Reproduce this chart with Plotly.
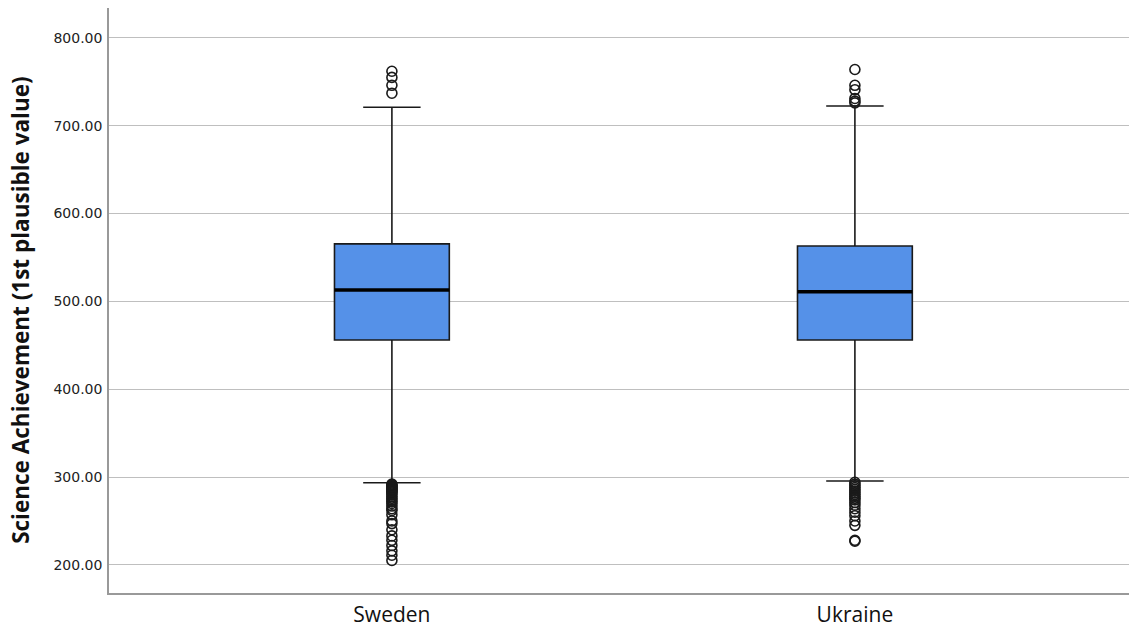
import plotly.graph_objects as go

countries = ["Sweden", "Ukraine"]
q1 = [456, 456]
median = [513, 511]
q3 = [565.5, 563]
lower_whisker = [293.5, 295.5]
upper_whisker = [721, 722.5]

sweden_outliers = [762, 755, 746, 737,
                   292, 291, 290, 289, 288, 287, 286, 285, 284, 283, 282, 280, 278, 276,
                   274, 272, 270, 267, 264, 262, 257, 250, 247, 240, 233, 228, 222, 216, 211, 205]
ukraine_outliers = [764, 746, 741, 731, 728, 726,
                    294, 292, 290, 288, 286, 284, 282, 280, 278, 276, 274, 271, 268,
                    264, 260, 256, 250, 245, 228, 227]
outliers = [sweden_outliers, ukraine_outliers]

y_ticks = [200, 300, 400, 500, 600, 700, 800]

box_w = 0.248
pos = list(range(len(countries)))

fig = go.Figure()
fig.add_trace(go.Box(
    x=pos, q1=q1, median=median, q3=q3,
    lowerfence=lower_whisker, upperfence=upper_whisker,
    width=box_w, whiskerwidth=0.5,
    fillcolor="#5591E8",
    line=dict(color="#1a1a1a", width=1.6),
    boxpoints=False, showlegend=False, hoverinfo="skip",
))

for i, c in enumerate(countries):
    fig.add_trace(go.Scatter(
        x=[pos[i] - box_w / 2, pos[i] + box_w / 2], y=[median[i], median[i]],
        mode="lines", line=dict(color="black", width=3.4),
        showlegend=False, hoverinfo="skip",
    ))
    fig.add_trace(go.Scatter(
        x=[pos[i]] * len(outliers[i]), y=outliers[i],
        mode="markers",
        marker=dict(symbol="circle-open", size=10, color="#1a1a1a", line=dict(width=1.6)),
        showlegend=False, hoverinfo="skip",
    ))

fig.update_layout(
    width=1129, height=627,
    margin=dict(l=109, r=0, t=8, b=34),
    plot_bgcolor="white", paper_bgcolor="white",
    font=dict(family="DejaVu Sans", color="#222222"),
    xaxis=dict(
        range=[-0.611, 1.592],
        tickvals=pos, ticktext=countries,
        tickfont=dict(size=21, family="Open Sans", color="#111111"),
        showgrid=False, zeroline=False,
        showline=True, linecolor="#999999", linewidth=1.5,
        ticks="", ticklen=0, ticklabelstandoff=2, automargin=False,
    ),
    yaxis=dict(
        range=[168, 834],
        tickvals=y_ticks, ticktext=[f"{v:.2f}" for v in y_ticks],
        tickfont=dict(size=14, family="DejaVu Sans", color="#222222"),
        showgrid=True, gridcolor="#bfbfbf", gridwidth=1.3,
        zeroline=False,
        showline=True, linecolor="#999999", linewidth=1.5,
        ticks="", ticklabelstandoff=2, automargin=False,
    ),
    annotations=[dict(
        text="<b>Science Achievement (1st plausible value)</b>",
        xref="paper", yref="paper",
        x=(21 - 109) / 1020, y=0.484,
        xanchor="center", yanchor="middle",
        textangle=-90, showarrow=False,
        font=dict(size=22.5, family="Open Sans", color="#111111"),
    )],
)

fig.write_html("out.html", config={"displayModeBar": False},
               post_script="document.body.style.margin='0';")
